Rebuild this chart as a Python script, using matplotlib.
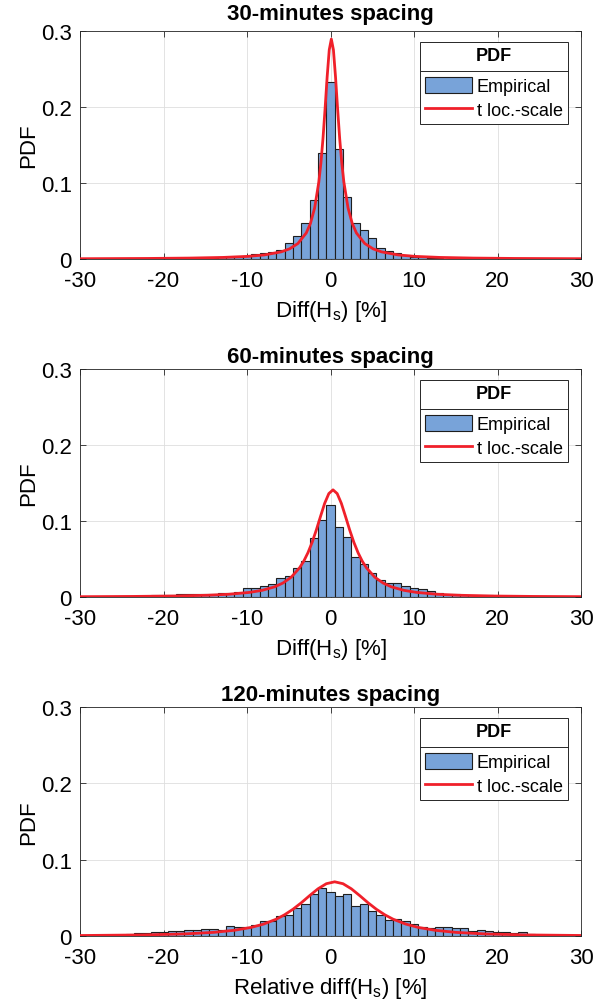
import matplotlib
matplotlib.use('Agg')
import matplotlib.pyplot as plt
import numpy as np
from matplotlib.patches import Patch
from matplotlib.lines import Line2D

plt.rcParams['font.family'] = ['Liberation Sans', 'DejaVu Sans']
plt.rcParams['axes.unicode_minus'] = False

BLUE = '#78a3d9'
EDGE = '#1e1e1e'
RED = '#f0202a'
DARK = '#262626'

# histogram bins (width 1, centred on integers) and PDF heights
top_bins = np.arange(-15, 14)
top_pdf = [0.0015, 0.0018, 0.002, 0.003, 0.003, 0.0044, 0.0066, 0.0075, 0.0088, 0.0123,
           0.0206, 0.0307, 0.047, 0.077, 0.140, 0.233, 0.145, 0.081, 0.047, 0.038,
           0.027, 0.015, 0.010, 0.0075, 0.005, 0.003, 0.002, 0.0015, 0.001]

mid_bins = np.arange(-25, 26)
mid_pdf = [0.001, 0.0012, 0.0015, 0.0018, 0.002, 0.0022, 0.003, 0.0044, 0.0035, 0.004,
           0.0042, 0.0044, 0.005, 0.0057, 0.006, 0.012, 0.0115, 0.014, 0.017, 0.025,
           0.027, 0.038, 0.048, 0.077, 0.101, 0.121, 0.0925, 0.079, 0.052, 0.043,
           0.031, 0.0225, 0.019, 0.019, 0.0145, 0.0123, 0.010, 0.0075, 0.0057, 0.004,
           0.0035, 0.003, 0.003, 0.0026, 0.002, 0.0015, 0.0012, 0.001, 0.0008, 0.0006,
           0.0005]

bot_bins = np.arange(-28, 28)
bot_pdf = [0.001, 0.0012, 0.0018, 0.0018, 0.002, 0.0035, 0.0035, 0.0048, 0.0048, 0.0061,
           0.0066, 0.0075, 0.0079, 0.0088, 0.0096, 0.0083, 0.0136, 0.0118, 0.0123, 0.0145,
           0.0193, 0.020, 0.0259, 0.028, 0.0368, 0.0425, 0.0553, 0.0632, 0.058, 0.053,
           0.0544, 0.039, 0.042, 0.0329, 0.028, 0.021, 0.0224, 0.0197, 0.0154, 0.0114,
           0.0105, 0.0123, 0.0118, 0.0105, 0.0101, 0.007, 0.0083, 0.007, 0.0057, 0.0048,
           0.004, 0.0053, 0.0026, 0.0015, 0.001, 0.0008]

# fitted t location-scale curves
top_fit_x = [-30, -21.9, -16.9, -12.9, -9.9, -7.9, -5.9, -4.9, -3.9, -2.9, -2.4, -1.9,
             -1.4, -1.15, -0.9, -0.65, -0.4, -0.15, 0.1, 0.35, 0.6, 0.85, 1.1, 1.35,
             1.6, 2.1, 2.6, 3.1, 4.1, 5.1, 6.1, 8.1, 10.1, 13.1, 17.1, 22.1, 30]
top_fit_y = [0.00039, 0.00072, 0.00121, 0.00206, 0.00346, 0.00537, 0.00941, 0.01336,
             0.0204, 0.0343, 0.0469, 0.0672, 0.1012, 0.1263, 0.1585, 0.1976, 0.2398,
             0.2752, 0.2894, 0.2752, 0.2398, 0.1976, 0.1585, 0.1263, 0.1012, 0.0672,
             0.0469, 0.0343, 0.0204, 0.01336, 0.00941, 0.00537, 0.00346, 0.00206,
             0.00121, 0.00072, 0.00039]

mid_fit_x = [-30, -23.7, -18.7, -14.7, -12.2, -9.7, -8.2, -6.7, -5.7, -4.7, -3.7, -3.2,
             -2.7, -2.2, -1.7, -1.2, -0.7, -0.2, 0.3, 0.8, 1.3, 1.8, 2.3, 2.8, 3.3, 3.8,
             4.3, 5.3, 6.3, 7.3, 8.8, 10.3, 12.8, 15.3, 19.3, 24.3, 30]
mid_fit_y = [0.00041, 0.00074, 0.00131, 0.00232, 0.00359, 0.00605, 0.00874, 0.01334,
             0.01835, 0.0261, 0.0385, 0.0472, 0.0583, 0.0719, 0.0881, 0.1059, 0.1232,
             0.1361, 0.141, 0.1361, 0.1232, 0.1059, 0.0881, 0.0719, 0.0583, 0.0472,
             0.0385, 0.0261, 0.01835, 0.01334, 0.00874, 0.00605, 0.00359, 0.00232,
             0.00131, 0.00074, 0.00044]

bot_fit_x = [-30, -22.5, -17.5, -14, -11.5, -9.5, -8, -6.5, -5.5, -4.5, -3.5, -2.5,
             -1.5, -0.5, 0.5, 1.5, 2.5, 3.5, 4.5, 5.5, 6.5, 7.5, 9, 10.5, 12.5, 15,
             18.5, 23.5, 30]
bot_fit_y = [0.00063, 0.00139, 0.00272, 0.00475, 0.00751, 0.01127, 0.01565, 0.0220,
             0.0278, 0.0350, 0.0435, 0.0529, 0.0618, 0.0685, 0.071, 0.0685, 0.0618,
             0.0529, 0.0435, 0.0350, 0.0278, 0.0220, 0.01565, 0.01127, 0.00751,
             0.00475, 0.00272, 0.00139, 0.00069]

titles = ['30-minutes spacing', '60-minutes spacing', '120-minutes spacing']
xlabels = ['Diff(H$_\\mathregular{s}$) [%]', 'Diff(H$_\\mathregular{s}$) [%]',
           'Relative diff(H$_\\mathregular{s}$) [%]']

W, H = 603, 1003
fig = plt.figure(figsize=(W / 100, H / 100), dpi=100)

# axes boxes in pixels: left, right, top, bottom
boxes = [(80, 581, 32, 260), (80, 581, 370, 598), (80, 581, 708, 937)]
title_pads = [8.5, 5, 5]
panels = [(top_bins, top_pdf, top_fit_x, top_fit_y),
          (mid_bins, mid_pdf, mid_fit_x, mid_fit_y),
          (bot_bins, bot_pdf, bot_fit_x, bot_fit_y)]

legends = []
for (l, r, t, b), (bins, pdf, fx, fy), title, tpad, xl in zip(boxes, panels, titles,
                                                              title_pads, xlabels):
    ax = fig.add_axes([l / W, 1 - b / H, (r - l) / W, (b - t) / H])
    ax.bar(bins, pdf, width=1.0, color=BLUE, edgecolor=EDGE, linewidth=0.8, zorder=2)
    ax.plot(fx, fy, color=RED, lw=2, zorder=3)
    ax.set_xlim(-30, 30)
    ax.set_ylim(0, 0.3)
    ax.set_xticks(range(-30, 31, 10))
    ax.set_yticks([0, 0.1, 0.2, 0.3])
    ax.set_yticklabels(['0', '0.1', '0.2', '0.3'])
    ax.grid(True, color='#dedede', lw=0.6)
    ax.set_axisbelow(True)
    ax.tick_params(direction='in', top=True, right=True, length=4, width=0.6,
                   labelsize=16, colors=DARK, labelcolor='black')
    ax.tick_params(axis='x', pad=8)
    ax.tick_params(axis='y', pad=6)
    for s in ax.spines.values():
        s.set_color(DARK)
        s.set_linewidth(0.6)
    ax.set_title(title, fontsize=16, fontweight='bold', pad=tpad)
    ax.set_xlabel(xl, fontsize=16, labelpad=5)
    ax.set_ylabel('PDF', fontsize=16, labelpad=1)

    handles = [Patch(facecolor=BLUE, edgecolor=EDGE, linewidth=0.8),
               Line2D([], [], color=RED, lw=2)]
    leg = ax.legend(handles, ['Empirical', 't loc.-scale'], title='PDF',
                    title_fontproperties={'weight': 'bold', 'size': 13},
                    loc='upper right', bbox_to_anchor=(0.974, 0.952), borderaxespad=0,
                    fontsize=13, fancybox=False, framealpha=1, edgecolor=DARK,
                    handlelength=2.6, handleheight=1.0, handletextpad=0.25,
                    borderpad=0.3, labelspacing=0.3)
    leg.get_frame().set_linewidth(0.7)
    leg._legend_box.sep = 9
    legends.append(leg)

# separator line under the legend title
fig.canvas.draw()
rend = fig.canvas.get_renderer()
for leg in legends:
    lb = leg.get_window_extent(rend)
    tb = leg.get_title().get_window_extent(rend)
    hb = leg._legend_handle_box.get_window_extent(rend)
    y = (tb.y0 + hb.y1) / 2 / fig.bbox.height
    fig.add_artist(Line2D([lb.x0 / fig.bbox.width, lb.x1 / fig.bbox.width], [y, y],
                          color=DARK, lw=0.7, transform=fig.transFigure))

fig.savefig('out.png', dpi=100)
